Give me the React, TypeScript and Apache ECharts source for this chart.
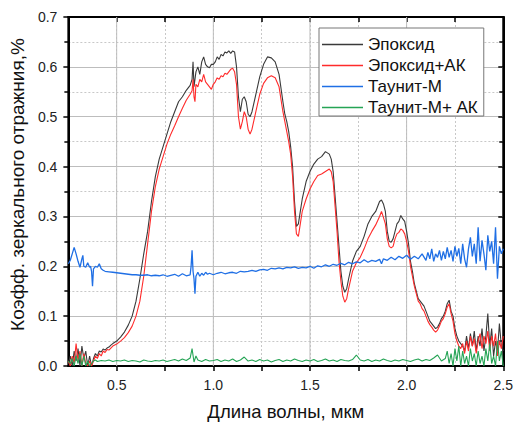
import React, { useEffect, useRef } from "react";
import * as echarts from "echarts";

// ---- data (wavelength, µm ; reflectance, %) ----
const epoxy: [number, number][] = [
  [0.25, 0.005], [0.26, 0.02], [0.27, 0.0], [0.28, 0.03], [0.29, 0.01], [0.30, 0.035], [0.31, 0.0], [0.32, 0.04],
  [0.33, 0.015], [0.34, 0.03], [0.35, 0.0], [0.36, 0.02], [0.37, 0.0], [0.38, 0.015], [0.39, 0.025], [0.40, 0.02],
  [0.41, 0.03], [0.42, 0.028], [0.43, 0.034], [0.44, 0.032], [0.45, 0.036], [0.46, 0.038], [0.47, 0.042], [0.48, 0.045],
  [0.50, 0.05], [0.52, 0.058], [0.54, 0.068], [0.56, 0.082], [0.58, 0.10], [0.60, 0.13], [0.62, 0.175], [0.64, 0.225],
  [0.66, 0.27], [0.68, 0.33], [0.70, 0.38], [0.72, 0.415], [0.74, 0.44], [0.76, 0.465], [0.78, 0.49], [0.80, 0.51],
  [0.82, 0.53], [0.84, 0.54], [0.86, 0.553], [0.88, 0.563], [0.89, 0.575], [0.895, 0.61], [0.90, 0.56], [0.91, 0.59],
  [0.92, 0.60], [0.93, 0.585], [0.94, 0.61], [0.95, 0.62], [0.96, 0.605], [0.97, 0.60], [0.98, 0.598], [0.99, 0.605],
  [1.00, 0.605], [1.01, 0.61], [1.02, 0.62], [1.03, 0.615], [1.04, 0.625], [1.05, 0.622], [1.06, 0.63], [1.07, 0.628],
  [1.08, 0.632], [1.09, 0.627], [1.10, 0.632], [1.11, 0.63], [1.12, 0.60], [1.13, 0.54], [1.14, 0.51], [1.15, 0.535],
  [1.16, 0.54], [1.17, 0.53], [1.18, 0.505], [1.19, 0.50], [1.20, 0.51], [1.22, 0.545], [1.24, 0.58], [1.26, 0.605],
  [1.28, 0.62], [1.30, 0.618], [1.32, 0.61], [1.34, 0.585], [1.36, 0.53], [1.37, 0.505], [1.38, 0.49], [1.39, 0.47],
  [1.40, 0.44], [1.41, 0.40], [1.42, 0.33], [1.43, 0.28], [1.44, 0.285], [1.45, 0.31], [1.46, 0.335], [1.48, 0.37],
  [1.50, 0.39], [1.52, 0.405], [1.54, 0.415], [1.56, 0.42], [1.58, 0.43], [1.60, 0.425], [1.61, 0.415], [1.62, 0.39],
  [1.63, 0.34], [1.64, 0.29], [1.65, 0.24], [1.66, 0.19], [1.67, 0.16], [1.68, 0.148], [1.69, 0.155], [1.70, 0.175],
  [1.72, 0.21], [1.74, 0.23], [1.76, 0.24], [1.78, 0.26], [1.80, 0.285], [1.82, 0.30], [1.84, 0.31], [1.86, 0.33],
  [1.87, 0.333], [1.88, 0.325], [1.89, 0.31], [1.90, 0.27], [1.91, 0.25], [1.92, 0.248], [1.93, 0.255], [1.94, 0.27],
  [1.95, 0.285], [1.96, 0.29], [1.97, 0.302], [1.98, 0.295], [1.99, 0.29], [2.00, 0.27], [2.01, 0.245], [2.02, 0.21],
  [2.03, 0.19], [2.04, 0.165], [2.05, 0.15], [2.06, 0.135], [2.07, 0.13], [2.08, 0.125], [2.09, 0.12], [2.10, 0.11],
  [2.11, 0.10], [2.12, 0.09], [2.13, 0.085], [2.14, 0.08], [2.15, 0.075], [2.16, 0.078], [2.17, 0.085], [2.18, 0.095],
  [2.19, 0.10], [2.20, 0.11], [2.21, 0.125], [2.22, 0.132], [2.23, 0.11], [2.24, 0.10], [2.25, 0.075], [2.26, 0.06],
  [2.27, 0.05], [2.28, 0.045], [2.29, 0.04], [2.30, 0.03], [2.31, 0.06], [2.32, 0.035], [2.33, 0.065], [2.34, 0.04],
  [2.35, 0.07], [2.36, 0.03], [2.37, 0.06], [2.38, 0.04], [2.39, 0.075], [2.40, 0.03], [2.41, 0.06], [2.42, 0.105],
  [2.43, 0.04], [2.44, 0.075], [2.45, 0.02], [2.46, 0.05], [2.47, 0.03], [2.48, 0.085], [2.49, 0.04], [2.50, 0.03],
];

const epoxyAK: [number, number][] = [
  [0.25, 0.01], [0.26, 0.0], [0.27, 0.02], [0.28, 0.005], [0.29, 0.045], [0.30, 0.01], [0.31, 0.03], [0.32, 0.0],
  [0.33, 0.025], [0.34, 0.005], [0.35, 0.0], [0.36, 0.01], [0.37, 0.0], [0.38, 0.01], [0.39, 0.02], [0.40, 0.015],
  [0.41, 0.025], [0.42, 0.02], [0.43, 0.03], [0.44, 0.027], [0.45, 0.033], [0.46, 0.032], [0.47, 0.036], [0.48, 0.04],
  [0.50, 0.044], [0.52, 0.05], [0.54, 0.057], [0.56, 0.067], [0.58, 0.08], [0.60, 0.10], [0.62, 0.13], [0.64, 0.18],
  [0.66, 0.245], [0.68, 0.31], [0.70, 0.36], [0.72, 0.395], [0.74, 0.42], [0.76, 0.445], [0.78, 0.465], [0.80, 0.482],
  [0.82, 0.50], [0.84, 0.517], [0.86, 0.533], [0.88, 0.545], [0.89, 0.552], [0.895, 0.575], [0.90, 0.54], [0.905, 0.53],
  [0.91, 0.565], [0.92, 0.56], [0.93, 0.575], [0.94, 0.57], [0.95, 0.585], [0.96, 0.57], [0.97, 0.565], [0.98, 0.56],
  [0.99, 0.555], [1.00, 0.565], [1.01, 0.57], [1.02, 0.578], [1.03, 0.575], [1.04, 0.582], [1.05, 0.58], [1.06, 0.587],
  [1.07, 0.585], [1.08, 0.59], [1.09, 0.595], [1.10, 0.597], [1.11, 0.59], [1.12, 0.565], [1.13, 0.50], [1.14, 0.475],
  [1.15, 0.49], [1.16, 0.51], [1.17, 0.50], [1.18, 0.475], [1.19, 0.465], [1.20, 0.475], [1.22, 0.51], [1.24, 0.545],
  [1.26, 0.567], [1.28, 0.578], [1.30, 0.582], [1.32, 0.578], [1.34, 0.56], [1.36, 0.51], [1.37, 0.49], [1.38, 0.47],
  [1.39, 0.45], [1.40, 0.425], [1.41, 0.38], [1.42, 0.31], [1.43, 0.265], [1.44, 0.26], [1.45, 0.285], [1.46, 0.31],
  [1.48, 0.335], [1.50, 0.355], [1.52, 0.37], [1.54, 0.382], [1.56, 0.385], [1.58, 0.39], [1.60, 0.395], [1.61, 0.39],
  [1.62, 0.37], [1.63, 0.32], [1.64, 0.27], [1.65, 0.21], [1.66, 0.17], [1.67, 0.14], [1.68, 0.128], [1.69, 0.135],
  [1.70, 0.155], [1.72, 0.19], [1.74, 0.207], [1.76, 0.218], [1.78, 0.235], [1.80, 0.255], [1.82, 0.27], [1.84, 0.283],
  [1.86, 0.30], [1.87, 0.31], [1.88, 0.298], [1.89, 0.285], [1.90, 0.255], [1.91, 0.24], [1.92, 0.237], [1.93, 0.24],
  [1.94, 0.255], [1.95, 0.265], [1.96, 0.268], [1.97, 0.275], [1.98, 0.272], [1.99, 0.265], [2.00, 0.25], [2.01, 0.23],
  [2.02, 0.20], [2.03, 0.18], [2.04, 0.16], [2.05, 0.145], [2.06, 0.13], [2.07, 0.125], [2.08, 0.115], [2.09, 0.11],
  [2.10, 0.10], [2.11, 0.09], [2.12, 0.083], [2.13, 0.078], [2.14, 0.072], [2.15, 0.068], [2.16, 0.072], [2.17, 0.08],
  [2.18, 0.09], [2.19, 0.095], [2.20, 0.105], [2.21, 0.118], [2.22, 0.125], [2.23, 0.105], [2.24, 0.09], [2.25, 0.065],
  [2.26, 0.05], [2.27, 0.04], [2.28, 0.035], [2.29, 0.045], [2.30, 0.025], [2.31, 0.05], [2.32, 0.03], [2.33, 0.06],
  [2.34, 0.04], [2.35, 0.055], [2.36, 0.025], [2.37, 0.05], [2.38, 0.065], [2.39, 0.035], [2.40, 0.06], [2.41, 0.045],
  [2.42, 0.07], [2.43, 0.03], [2.44, 0.06], [2.45, 0.04], [2.46, 0.065], [2.47, 0.02], [2.48, 0.05], [2.49, 0.035],
  [2.50, 0.06],
];

const taunit: [number, number][] = [
  [0.25, 0.205], [0.26, 0.212], [0.27, 0.225], [0.28, 0.238], [0.29, 0.225], [0.30, 0.21], [0.31, 0.198], [0.32, 0.215],
  [0.325, 0.222], [0.33, 0.20], [0.34, 0.198], [0.35, 0.207], [0.36, 0.198], [0.365, 0.20], [0.37, 0.19], [0.375, 0.16],
  [0.38, 0.195], [0.39, 0.20], [0.40, 0.198], [0.41, 0.205], [0.42, 0.195], [0.43, 0.192], [0.44, 0.19], [0.46, 0.189],
  [0.48, 0.188], [0.50, 0.187], [0.52, 0.186], [0.54, 0.185], [0.56, 0.184], [0.58, 0.183], [0.60, 0.183], [0.62, 0.182],
  [0.64, 0.182], [0.66, 0.183], [0.68, 0.181], [0.70, 0.182], [0.72, 0.181], [0.74, 0.183], [0.76, 0.18], [0.78, 0.182],
  [0.80, 0.184], [0.82, 0.18], [0.84, 0.185], [0.86, 0.181], [0.88, 0.183], [0.885, 0.20], [0.89, 0.232], [0.895, 0.19],
  [0.90, 0.175], [0.905, 0.145], [0.91, 0.18], [0.92, 0.188], [0.93, 0.18], [0.94, 0.186], [0.95, 0.182], [0.96, 0.188],
  [0.97, 0.184], [0.98, 0.186], [1.00, 0.183], [1.02, 0.186], [1.04, 0.188], [1.06, 0.185], [1.08, 0.187], [1.10, 0.188],
  [1.12, 0.186], [1.14, 0.19], [1.16, 0.189], [1.18, 0.19], [1.20, 0.192], [1.22, 0.19], [1.24, 0.193], [1.26, 0.194],
  [1.28, 0.192], [1.30, 0.196], [1.32, 0.195], [1.34, 0.197], [1.36, 0.195], [1.38, 0.198], [1.40, 0.197], [1.42, 0.199],
  [1.44, 0.196], [1.46, 0.198], [1.48, 0.197], [1.50, 0.20], [1.52, 0.196], [1.54, 0.201], [1.56, 0.199], [1.58, 0.203],
  [1.60, 0.20], [1.62, 0.204], [1.64, 0.202], [1.66, 0.206], [1.68, 0.203], [1.70, 0.208], [1.72, 0.205], [1.74, 0.209],
  [1.76, 0.207], [1.78, 0.213], [1.80, 0.208], [1.82, 0.212], [1.84, 0.21], [1.86, 0.214], [1.87, 0.205], [1.88, 0.215],
  [1.90, 0.212], [1.92, 0.218], [1.94, 0.213], [1.96, 0.22], [1.98, 0.216], [2.00, 0.222], [2.02, 0.214], [2.04, 0.22],
  [2.06, 0.215], [2.08, 0.225], [2.10, 0.212], [2.11, 0.228], [2.12, 0.215], [2.13, 0.235], [2.14, 0.21], [2.15, 0.225],
  [2.16, 0.218], [2.17, 0.232], [2.18, 0.212], [2.19, 0.23], [2.20, 0.215], [2.21, 0.238], [2.22, 0.218], [2.23, 0.232],
  [2.24, 0.21], [2.25, 0.24], [2.26, 0.22], [2.27, 0.236], [2.28, 0.205], [2.29, 0.245], [2.30, 0.215], [2.31, 0.198],
  [2.32, 0.235], [2.33, 0.258], [2.34, 0.22], [2.35, 0.245], [2.36, 0.205], [2.37, 0.278], [2.38, 0.21], [2.39, 0.252],
  [2.40, 0.225], [2.41, 0.192], [2.42, 0.262], [2.43, 0.23], [2.44, 0.25], [2.45, 0.205], [2.46, 0.278], [2.47, 0.175],
  [2.48, 0.24], [2.49, 0.225], [2.50, 0.235],
];

const taunitAK: [number, number][] = [
  [0.25, 0.01], [0.26, 0.005], [0.27, 0.015], [0.28, 0.0], [0.29, 0.02], [0.30, 0.005], [0.31, 0.025], [0.32, 0.0],
  [0.33, 0.02], [0.34, 0.0], [0.35, 0.01], [0.36, 0.0], [0.37, 0.005], [0.38, 0.01], [0.39, 0.012], [0.40, 0.009],
  [0.42, 0.011], [0.44, 0.01], [0.46, 0.012], [0.48, 0.009], [0.50, 0.011], [0.52, 0.01], [0.54, 0.012], [0.56, 0.009],
  [0.58, 0.011], [0.60, 0.01], [0.62, 0.008], [0.64, 0.012], [0.66, 0.01], [0.68, 0.009], [0.70, 0.011], [0.72, 0.01],
  [0.74, 0.012], [0.76, 0.009], [0.78, 0.011], [0.80, 0.013], [0.82, 0.01], [0.84, 0.014], [0.86, 0.011], [0.88, 0.016],
  [0.89, 0.035], [0.90, 0.008], [0.91, 0.02], [0.92, 0.012], [0.94, 0.009], [0.96, 0.013], [0.98, 0.01], [1.00, 0.011],
  [1.02, 0.013], [1.04, 0.009], [1.06, 0.012], [1.08, 0.01], [1.10, 0.014], [1.12, 0.009], [1.14, 0.012], [1.16, 0.018],
  [1.18, 0.01], [1.20, 0.012], [1.22, 0.009], [1.24, 0.013], [1.26, 0.01], [1.28, 0.012], [1.30, 0.008], [1.32, 0.011],
  [1.34, 0.013], [1.36, 0.009], [1.38, 0.012], [1.40, 0.01], [1.42, 0.014], [1.44, 0.011], [1.46, 0.009], [1.48, 0.012],
  [1.50, 0.01], [1.52, 0.013], [1.54, 0.009], [1.56, 0.011], [1.58, 0.014], [1.60, 0.01], [1.62, 0.012], [1.64, 0.009],
  [1.66, 0.013], [1.68, 0.011], [1.70, 0.01], [1.72, 0.013], [1.74, 0.022], [1.76, 0.012], [1.78, 0.01], [1.80, 0.013],
  [1.82, 0.009], [1.84, 0.012], [1.86, 0.01], [1.88, 0.014], [1.90, 0.011], [1.92, 0.009], [1.94, 0.012], [1.96, 0.01],
  [1.98, 0.013], [2.00, 0.011], [2.02, 0.009], [2.04, 0.012], [2.06, 0.014], [2.08, 0.01], [2.10, 0.013], [2.12, 0.011],
  [2.14, 0.016], [2.16, 0.022], [2.18, 0.01], [2.20, 0.015], [2.21, 0.03], [2.22, 0.005], [2.23, 0.025], [2.24, 0.0],
  [2.25, 0.035], [2.26, 0.01], [2.27, 0.04], [2.28, 0.0], [2.29, 0.03], [2.30, 0.005], [2.31, 0.02], [2.32, 0.0],
  [2.33, 0.035], [2.34, 0.01], [2.35, 0.025], [2.36, 0.0], [2.37, 0.03], [2.38, 0.005], [2.39, 0.02], [2.40, 0.0],
  [2.41, 0.035], [2.42, 0.01], [2.43, 0.045], [2.44, 0.005], [2.45, 0.02], [2.46, 0.0], [2.47, 0.05], [2.48, 0.01],
  [2.49, 0.03], [2.50, 0.0],
];

const seriesNames = ["Эпоксид", "Эпоксид+АК", "Таунит-М", "Таунит-М+ АК"];
const seriesColors = ["#3a3a3a", "#ff2b2b", "#1f6fe5", "#25a455"];
const xMajorGrid = [0.5, 1.0, 1.5, 2.0];
const xMajorLabels = [0.5, 1.0, 1.5, 2.0, 2.5];

const FONT = "'Liberation Sans', Arial, sans-serif";

const blackLine = () => ({ show: true, onZero: false, lineStyle: { color: "#000", width: 2 } });
const blackTick = (inside: boolean, length: number) => ({
  show: true,
  inside,
  length,
  lineStyle: { color: "#000", width: 1.5 },
});

export default function App() {
  const ref = useRef<HTMLDivElement>(null);
  useEffect(() => {
    if (!ref.current) return;
    const chart = echarts.init(ref.current, undefined, { renderer: "svg" });
    const dataSets = [epoxy, epoxyAK, taunit, taunitAK];
    const mainSeries = dataSets.map((d, i) => ({
      name: seriesNames[i],
      type: "line",
      data: d,
      showSymbol: false,
      symbol: "none",
      z: 3,
      lineStyle: { color: seriesColors[i], width: i === 2 ? 1.3 : 1.1 },
      itemStyle: { color: seriesColors[i] },
    }));
    const gridSeries = xMajorGrid.map((x) => ({
      type: "line",
      data: [[x, 0], [x, 0.7]],
      showSymbol: false,
      symbol: "none",
      silent: true,
      z: 1,
      lineStyle: { color: "#bdbdbd", width: 1 },
    }));
    // empty series bound to the secondary (top / right) axes so they are rendered
    const frameSeries = {
      type: "line",
      xAxisIndex: 1,
      yAxisIndex: 1,
      data: [] as number[][],
      silent: true,
      symbol: "none",
    };
    chart.setOption({
      animation: false,
      backgroundColor: "#fff",
      textStyle: { fontFamily: FONT },
      grid: {
        left: 66,
        right: 12,
        top: 17,
        bottom: 56,
        show: true,
        borderColor: "#000",
        borderWidth: 2,
        backgroundColor: "transparent",
      },
      legend: {
        orient: "vertical",
        left: 319,
        top: 28,
        data: seriesNames.map((n) => ({ name: n, icon: "rect" })),
        itemWidth: 41,
        itemHeight: 1.6,
        itemGap: 4,
        padding: [8, 6, 0, 3],
        borderColor: "#777",
        borderWidth: 1,
        backgroundColor: "#fff",
        borderRadius: 0,
        textStyle: { fontFamily: FONT, fontSize: 17, color: "#111", lineHeight: 15 },
      },
      xAxis: [
        {
          type: "value",
          min: 0.25,
          max: 2.5,
          interval: 0.25,
          position: "bottom",
          name: "Длина волны, мкм",
          nameLocation: "middle",
          nameGap: 36,
          nameTextStyle: { fontFamily: FONT, fontSize: 18.5, color: "#111" },
          axisLine: blackLine(),
          axisTick: blackTick(false, 5),
          axisLabel: {
            fontFamily: FONT,
            fontSize: 14,
            color: "#222",
            margin: 12,
            showMinLabel: false,
            formatter: (v: number) =>
              xMajorLabels.some((m) => Math.abs(m - v) < 1e-6) ? v.toFixed(1) : "",
          },
          splitLine: { show: true, lineStyle: { color: "#c8c8c8", type: [2, 2], width: 1 } },
        },
        {
          type: "value",
          min: 0.25,
          max: 2.5,
          interval: 0.25,
          position: "top",
          axisLine: blackLine(),
          axisTick: blackTick(true, 5),
          axisLabel: { show: false },
          splitLine: { show: false },
        },
      ],
      yAxis: [
        {
          type: "value",
          min: 0,
          max: 0.7,
          interval: 0.1,
          position: "left",
          name: "Коэфф. зеркального отражния,%",
          nameLocation: "middle",
          nameGap: 37,
          nameTextStyle: { fontFamily: FONT, fontSize: 19, color: "#111", padding: [0, 0, 0, 14] },
          axisLine: blackLine(),
          axisTick: blackTick(false, 5),
          minorTick: { show: true, splitNumber: 2, length: 4, lineStyle: { color: "#000", width: 1.5 } },
          axisLabel: {
            fontFamily: FONT,
            fontSize: 14,
            color: "#222",
            margin: 11,
            formatter: (v: number) => v.toFixed(1),
          },
          splitLine: { show: true, lineStyle: { color: "#bdbdbd", width: 1 } },
          minorSplitLine: { show: true, lineStyle: { color: "#c8c8c8", type: [2, 2], width: 1 } },
        },
        {
          type: "value",
          min: 0,
          max: 0.7,
          interval: 0.1,
          position: "right",
          axisLine: blackLine(),
          axisTick: blackTick(true, 5),
          minorTick: { show: true, splitNumber: 2, length: 4, lineStyle: { color: "#000", width: 1.5 } },
          axisLabel: { show: false },
          splitLine: { show: false },
        },
      ],
      series: [...gridSeries, frameSeries, ...mainSeries],
    });
    return () => chart.dispose();
  }, []);
  return (
    <div
      ref={ref}
      style={{ position: "absolute", left: 0, top: 0, width: 516, height: 426, background: "#fff" }}
    />
  );
}
